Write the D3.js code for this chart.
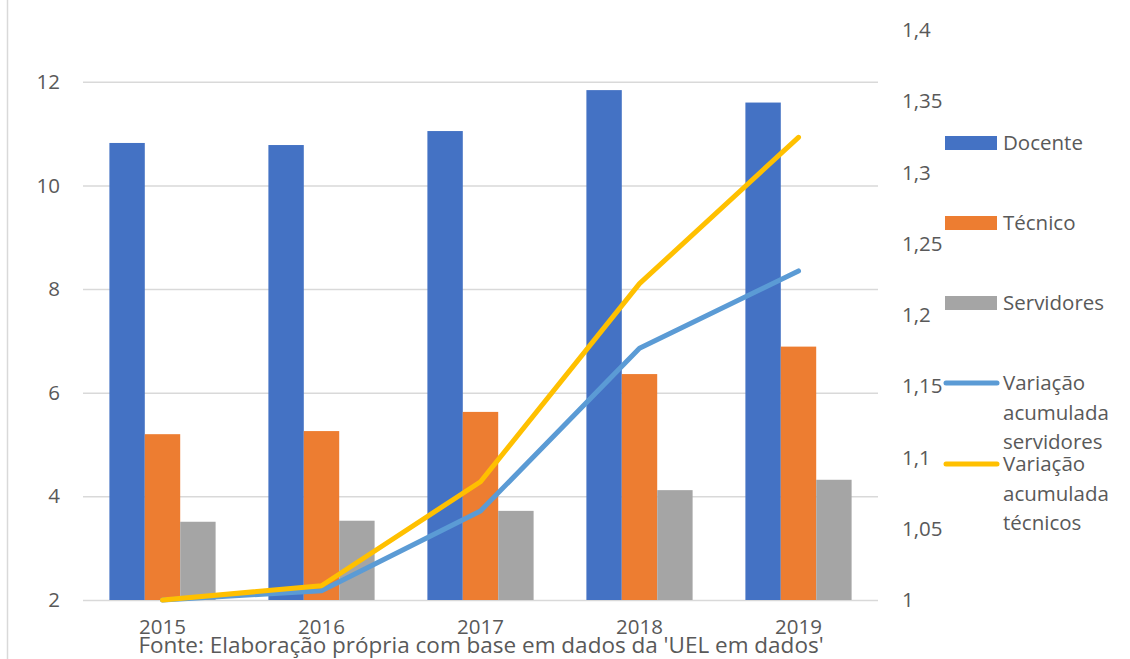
<!DOCTYPE html>
<html>
<head>
<meta charset="utf-8">
<script src="https://cdn.jsdelivr.net/npm/d3@7"></script>
<style>
  body { margin: 0; background: #fff; }
  text { font-family: "Open Sans", "Liberation Sans", sans-serif; fill: #595959; }
</style>
</head>
<body>
<script>
(function() {

    var width = 1130;
    var height = 659;

    // data
    const years = ["2015", "2016", "2017", "2018", "2019"];
    const docente = [10.82, 10.78, 11.05, 11.84, 11.6];
    const tecnico = [5.2, 5.26, 5.63, 6.36, 6.89];
    const servidores = [3.51, 3.53, 3.72, 4.12, 4.32];
    const varServidores = [1, 1.0065, 1.0625, 1.1766, 1.2309];
    const varTecnicos = [1, 1.010, 1.083, 1.222, 1.3247];
    const leftTicks = [2, 4, 6, 8, 10, 12];
    const rightTicks = [1, 1.05, 1.1, 1.15, 1.2, 1.25, 1.3, 1.35, 1.4];

    const barSeries = [
        { name: "Docente", values: docente, color: "#4472C4" },
        { name: "Técnico", values: tecnico, color: "#ED7D31" },
        { name: "Servidores", values: servidores, color: "#A5A5A5" }
    ];
    const lineSeries = [
        { name: ["Variação", "acumulada", "servidores"], values: varServidores, color: "#5B9BD5" },
        { name: ["Variação", "acumulada", "técnicos"], values: varTecnicos, color: "#FFC000" }
    ];

    // plot area
    const left = 83, right = 878, top = 30, bottom = 600;
    const fontSize = "20.5px";

    const svg = d3.select("body")
      .append("svg")
      .attr("width", width)
      .attr("height", height);

    // thin border at the left edge
    svg.append("line")
        .attr("x1", 7.5).attr("x2", 7.5)
        .attr("y1", 0).attr("y2", height)
        .attr("stroke", "#D9D9D9")
        .attr("stroke-width", 1.5);

    //scales
    const x = d3.scaleBand()
        .domain(years)
        .range([left, right])
        .paddingInner(0.332)
        .paddingOuter(0.166);

    const xInner = d3.scaleBand()
        .domain(barSeries.map(d => d.name))
        .range([0, x.bandwidth()]);

    const yLeft = d3.scaleLinear().domain([2, 13]).range([bottom, top]);
    const yRight = d3.scaleLinear().domain([1, 1.4]).range([bottom, top]);

    //gridlines
    const grid = svg.append("g")
        .attr("transform", `translate(${left},0)`)
        .call(d3.axisLeft(yLeft).tickValues(leftTicks).tickSize(-(right - left)).tickFormat(""));
    grid.select(".domain").remove();
    grid.selectAll(".tick line").attr("stroke", "#D9D9D9").attr("stroke-width", 1.5);

    function styleText(g) {
        g.select(".domain").remove();
        g.selectAll("text").style("font-size", fontSize).style("fill", "#595959")
            .style("font-family", "'Open Sans', sans-serif");
    }

    //left axis labels
    svg.append("g")
        .attr("transform", `translate(${left},0)`)
        .call(d3.axisLeft(yLeft).tickValues(leftTicks).tickSize(0).tickPadding(23))
        .call(styleText);

    //right axis labels
    const fmt = d => String(d).replace(".", ",");
    svg.append("g")
        .attr("transform", `translate(${right},0)`)
        .call(d3.axisRight(yRight).tickValues(rightTicks).tickSize(0).tickPadding(24).tickFormat(fmt))
        .call(styleText);

    //bottom axis labels
    svg.append("g")
        .attr("transform", `translate(0,${bottom})`)
        .call(d3.axisBottom(x).tickSize(0).tickPadding(19))
        .call(styleText);

    //bars
    barSeries.forEach(s => {
        svg.append("g").selectAll("rect")
            .data(s.values)
            .enter()
            .append("rect")
            .attr("x", (d, i) => x(years[i]) + xInner(s.name))
            .attr("y", d => yLeft(d))
            .attr("width", xInner.bandwidth())
            .attr("height", d => yLeft(2) - yLeft(d))
            .style("fill", s.color);
    });

    //lines on the secondary axis
    const line = d3.line()
        .x((d, i) => x(years[i]) + x.bandwidth() / 2)
        .y(d => yRight(d));

    lineSeries.forEach(s => {
        svg.append("path")
            .datum(s.values)
            .attr("d", line)
            .attr("fill", "none")
            .attr("stroke", s.color)
            .attr("stroke-width", 5)
            .attr("stroke-linecap", "round")
            .attr("stroke-linejoin", "round");
    });

    //legend
    const legBarY = [143, 223, 303];
    barSeries.forEach((s, i) => {
        svg.append("rect")
            .attr("x", 945).attr("y", legBarY[i] - 7)
            .attr("width", 52).attr("height", 14)
            .style("fill", s.color);
        svg.append("text")
            .attr("x", 1003).attr("y", legBarY[i])
            .attr("dy", "0.35em")
            .style("font-size", fontSize)
            .text(s.name);
    });

    const legLineY = [383, 464];
    lineSeries.forEach((s, i) => {
        svg.append("line")
            .attr("x1", 946).attr("x2", 997)
            .attr("y1", legLineY[i]).attr("y2", legLineY[i])
            .attr("stroke", s.color)
            .attr("stroke-width", 5)
            .attr("stroke-linecap", "round");
        svg.append("text")
            .attr("x", 1003).attr("y", legLineY[i])
            .style("font-size", fontSize)
            .selectAll("tspan")
            .data(s.name)
            .enter()
            .append("tspan")
            .attr("x", 1003)
            .attr("dy", (d, j) => j === 0 ? "0.35em" : "29.5px")
            .text(d => d);
    });

    //source note
    svg.append("text")
        .attr("x", 481).attr("y", 645)
        .attr("dy", "0.35em")
        .attr("text-anchor", "middle")
        .style("font-size", "22.5px")
        .text("Fonte: Elaboração própria com base em dados da 'UEL em dados'");

})();
</script>
</body>
</html>
